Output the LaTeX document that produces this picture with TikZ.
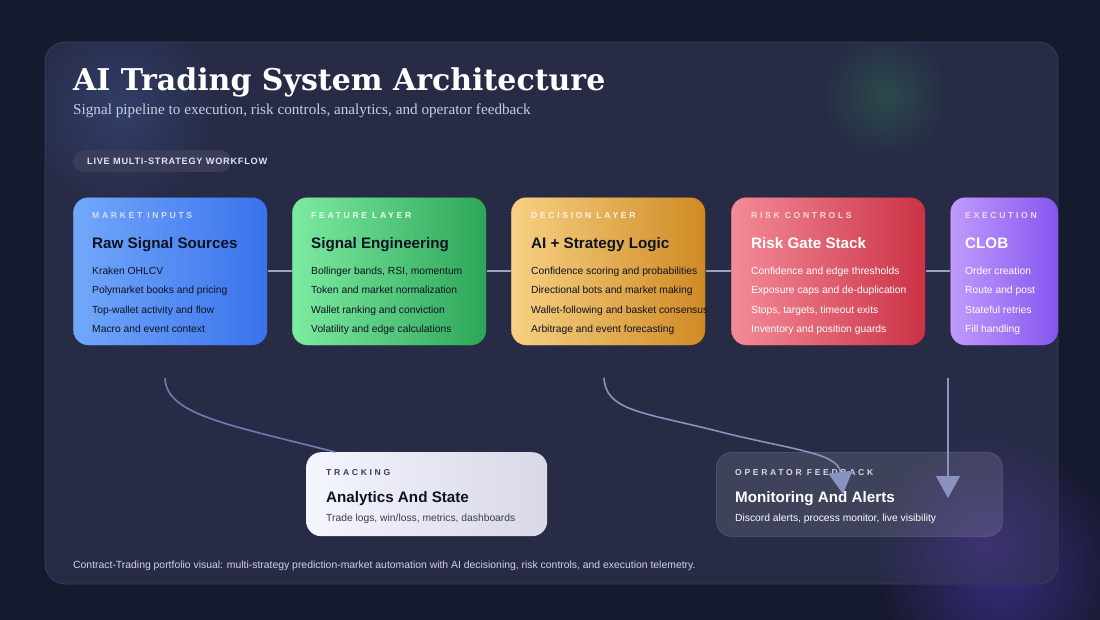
\documentclass[tikz,border=0pt]{standalone}
\usepackage{fontspec}
\setmainfont{Liberation Sans}
\newfontfamily\titlefont{DejaVu Serif}
\newfontfamily\subfont{Liberation Serif}
\newfontfamily\spacedfont[LetterSpace=31]{Liberation Sans}
\newfontfamily\pillfont[LetterSpace=8]{Liberation Sans}
\usetikzlibrary{arrows.meta,fadings,calc}
\tikzfading[name=glowfade, inner color=transparent!0, outer color=transparent!100]
\definecolor{bg}{HTML}{161A2E}
\definecolor{panel}{HTML}{272B46}
\definecolor{panelborder}{HTML}{3A3E5C}
\definecolor{pill}{HTML}{3A3C58}
\definecolor{linkc}{HTML}{9AA1C6}
\definecolor{curvec}{HTML}{6F7DB2}
\definecolor{arrowc}{HTML}{8A92BF}
\definecolor{bluea}{HTML}{72A8FA}\definecolor{blueb}{HTML}{3A72EC}
\definecolor{greena}{HTML}{7DEBA0}\definecolor{greenb}{HTML}{2DA65A}
\definecolor{orangea}{HTML}{F7D184}\definecolor{orangeb}{HTML}{CF8A24}
\definecolor{reda}{HTML}{F38B98}\definecolor{redb}{HTML}{CB3246}
\definecolor{purplea}{HTML}{C09BFC}\definecolor{purpleb}{HTML}{8556EE}
\definecolor{darktext}{HTML}{0E1222}
\definecolor{subt}{HTML}{C9CCE2}
\definecolor{glowp}{HTML}{3F3290}
\definecolor{glowb}{HTML}{3A4C80}
\definecolor{glowg}{HTML}{2F6A52}
\definecolor{glowp3}{HTML}{4A3A90}
\definecolor{trkb}{HTML}{D8D8E6}
\definecolor{trklab}{HTML}{3A3D5C}
\definecolor{trkitm}{HTML}{3A3D4C}
\definecolor{opslab}{HTML}{D4D5EA}
\definecolor{footc}{HTML}{D0D3E6}
\begin{document}
\begin{tikzpicture}[x=1pt,y=-1pt,
  card/.style={anchor=north west, rounded corners=15pt, minimum width=194pt, minimum height=148pt, inner sep=0pt, draw=black, draw opacity=0.25, line width=0.6pt},
  lab/.style={anchor=base west, inner sep=0pt, font=\spacedfont\bfseries\fontsize{8.6}{10}\selectfont},
  ttl/.style={anchor=base west, inner sep=0pt, font=\bfseries\fontsize{15.2}{18}\selectfont},
  itm/.style={anchor=base west, inner sep=0pt, font=\fontsize{10.3}{12}\selectfont},
  link/.style={linkc, line width=1.6pt},
  curve/.style={curvec, line width=1.6pt},
  arrowline/.style={arrowc, line width=1.6pt, -{Triangle[width=24pt,length=22pt]}},
  glow/.style={path fading=glowfade}
]
\useasboundingbox (0,0) rectangle (1100,620);
\fill[bg] (0,0) rectangle (1100,620);
% glows
\fill[glowp, glow, opacity=0.8] (1000,570) circle (125);
% panel
\fill[panel, rounded corners=20pt] (45,42) rectangle (1058,584);
\begin{scope}
\clip[rounded corners=20pt] (45,42) rectangle (1058,584);
\fill[glowb, glow, opacity=0.6] (120,110) circle (100);
\fill[glowg, glow, opacity=0.5] (885,95) circle (65);
\fill[glowp3, glow, opacity=0.6] (985,545) circle (115);
\end{scope}
\draw[panelborder, line width=0.8pt, rounded corners=20pt] (45,42) rectangle (1058,584);

% title
\node[anchor=base west, inner sep=0pt, text=white, font=\titlefont\bfseries\fontsize{30}{35}\selectfont] (title) at (73,90.5) {AI Trading System Architecture};
\node[anchor=base west, inner sep=0pt, text=subt, font=\subfont\fontsize{15.2}{18}\selectfont] (subtitle) at (73,115) {Signal pipeline to execution, risk controls, analytics, and operator feedback};

% pill
\fill[pill, rounded corners=11pt] (73,150) rectangle (231,172);
\node[anchor=base west, inner sep=0pt, text=white!88!blue, font=\pillfont\bfseries\fontsize{9.2}{11}\selectfont] (pilltext) at (87,164.5) {LIVE MULTI-STRATEGY WORKFLOW};

% cards
\node[card, left color=bluea, right color=blueb] (b1) at (73,197) {};
\node[card, left color=greena, right color=greenb] (b2) at (292,197) {};
\node[card, left color=orangea, right color=orangeb] (b3) at (511,197) {};
\node[card, left color=reda, right color=redb] (b4) at (731,197) {};
\node[card, left color=purplea, right color=purpleb, minimum width=108pt] (b5) at (950,197) {};

\draw[link] (b1.east) -- (b2.west);
\draw[link] (b2.east) -- (b3.west);
\draw[link] (b3.east) -- (b4.west);
\draw[link] (b4.east) -- (b5.west);

% card 1
\node[lab, text=white!85!blue] at (92,218.5) {MARKET INPUTS};
\node[ttl, text=darktext] at (92,249) {Raw Signal Sources};
\node[itm, text=darktext] at (92,274.5) {Kraken OHLCV};
\node[itm, text=darktext] at (92,293.8) {Polymarket books and pricing};
\node[itm, text=darktext] at (92,313.1) {Top-wallet activity and flow};
\node[itm, text=darktext] at (92,332.4) {Macro and event context};
% card 2
\node[lab, text=white!92!green] at (311,218.5) {FEATURE LAYER};
\node[ttl, text=darktext] at (311,249) {Signal Engineering};
\node[itm, text=darktext] at (311,274.5) {Bollinger bands, RSI, momentum};
\node[itm, text=darktext] at (311,293.8) {Token and market normalization};
\node[itm, text=darktext] at (311,313.1) {Wallet ranking and conviction};
\node[itm, text=darktext] at (311,332.4) {Volatility and edge calculations};
% card 3
\begin{scope}
\clip[rounded corners=15pt] (511,197) rectangle (706,345);
\node[lab, text=white!90!orange] at (531,218.5) {DECISION LAYER};
\node[ttl, text=darktext] at (531,249) {AI + Strategy Logic};
\node[itm, text=darktext] at (531,274.5) {Confidence scoring and probabilities};
\node[itm, text=darktext] at (531,293.8) {Directional bots and market making};
\node[itm, text=darktext] at (531,313.1) {Wallet-following and basket consensus};
\node[itm, text=darktext] at (531,332.4) {Arbitrage and event forecasting};
\end{scope}
% card 4
\node[lab, text=white!85!red] at (751,218.5) {RISK CONTROLS};
\node[ttl, text=white] at (751,249) {Risk Gate Stack};
\node[itm, text=white] at (751,274.5) {Confidence and edge thresholds};
\node[itm, text=white] at (751,293.8) {Exposure caps and de-duplication};
\node[itm, text=white] at (751,313.1) {Stops, targets, timeout exits};
\node[itm, text=white] at (751,332.4) {Inventory and position guards};
% card 5
\node[lab, text=white!85!violet] at (965,218.5) {EXECUTION};
\node[ttl, text=white] at (965,249) {CLOB};
\node[itm, text=white] at (965,274.5) {Order creation};
\node[itm, text=white] at (965,293.8) {Route and post};
\node[itm, text=white] at (965,313.1) {Stateful retries};
\node[itm, text=white] at (965,332.4) {Fill handling};

% bottom cards
\node[anchor=north west, rounded corners=15pt, minimum width=241pt, minimum height=84pt, inner sep=0pt, left color=white!96!blue, right color=trkb] (trk) at (306,452) {};
\node[lab, text=trklab] at (326,475.5) {TRACKING};
\node[ttl, text=darktext] at (326,502) {Analytics And State};
\node[itm, text=trkitm] at (326,521.5) {Trade logs, win/loss, metrics, dashboards};

\node[anchor=north west, rounded corners=15pt, minimum width=286pt, minimum height=84pt, inner sep=0pt, fill=white, fill opacity=0.11, draw=white, draw opacity=0.12, line width=0.8pt] (ops) at (716,452) {};
\node[lab, text=opslab] at (735,475.5) {OPERATOR FEEDBACK};
\node[ttl, text=white] at (735,502) {Monitoring And Alerts};
\node[itm, text=white] at (735,521.5) {Discord alerts, process monitor, live visibility};

% connectors
\coordinate (s1) at (165,378);
\coordinate (s2) at (604,378);
\coordinate (s3) at (948,378);
\coordinate (t2) at (843,494);
\coordinate (t3) at (948,498);
\draw[curve] (s1) .. controls (166,415) and (230,425) .. ($(trk.north west)+(29,0)$);
\draw[arrowline] (s2) .. controls (606,410) and (640,412) .. (713,430) .. controls (790,450) and (838,452) .. (t2);
\draw[arrowline] (s3) -- (t3);

% footer
\node[anchor=base west, inner sep=0pt, text=footc, font=\fontsize{10.4}{12}\selectfont] (foot) at (73,568.5) {Contract-Trading portfolio visual: multi-strategy prediction-market automation with AI decisioning, risk controls, and execution telemetry.};
\end{tikzpicture}
\end{document}
